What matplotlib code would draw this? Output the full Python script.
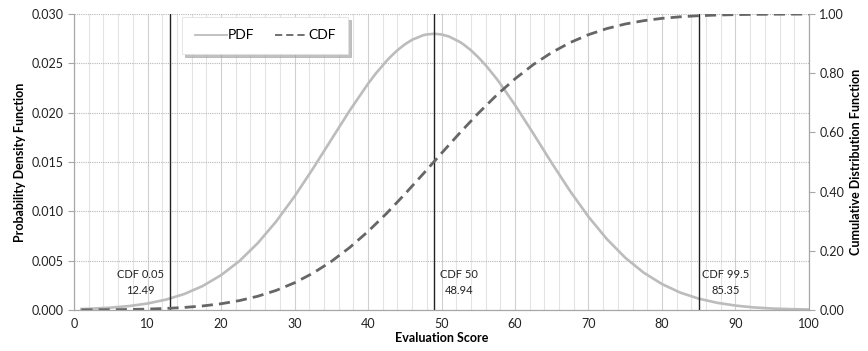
import matplotlib.pyplot as plt
from matplotlib.ticker import MultipleLocator, FormatStrFormatter

plt.rcParams['font.family'] = ['Lato', 'DejaVu Sans']

# evaluation score for the density curve
pdf_score = [1, 2.5, 5, 7.5, 10, 12.5, 15, 17.5, 20, 22.5, 25, 27.5, 30, 32.5,
             35, 37.5, 40, 41, 42.5, 43, 44, 45, 46, 47.5, 48, 49, 50, 51,
             52.5, 53, 54, 55, 56, 57.5, 58, 60, 62.5, 65, 67.5, 70, 72.5, 75,
             77.5, 80, 82.5, 85, 87.5, 90, 92.5, 95, 97.5, 100]

# probability density (left axis)
pdf = [0.00010, 0.00014, 0.00024, 0.00040, 0.00066, 0.00105, 0.00162, 0.00243,
       0.00353, 0.00496, 0.00678, 0.00897, 0.01151, 0.01432, 0.01727, 0.02021,
       0.02293, 0.02392, 0.02523, 0.02562, 0.02633, 0.02692, 0.02739, 0.02785,
       0.02793, 0.02800, 0.02793, 0.02773, 0.02717, 0.02692, 0.02633, 0.02562,
       0.02482, 0.02344, 0.02293, 0.02078, 0.01788, 0.01490, 0.01205, 0.00945,
       0.00719, 0.00530, 0.00379, 0.00263, 0.00176, 0.00115, 0.00073, 0.00045,
       0.00026, 0.00015, 0.00009, 0.00005]

# evaluation score for the cumulative curve
cdf_score = [1, 2.5, 5, 7.5, 10, 12.5, 15, 17.5, 20, 22.5, 25, 27.5, 30, 32.5,
             35, 37.5, 40, 42.5, 45, 47.5, 50, 52.5, 55, 57.5, 60, 62.5, 65,
             67.5, 70, 72.5, 75, 77.5, 80, 82.5, 85, 87.5, 90, 92.5, 95, 97.5,
             100]

# cumulative distribution (right axis)
cdf = [0.0004, 0.0006, 0.0010, 0.0018, 0.0031, 0.0053, 0.0086, 0.0137, 0.0211,
       0.0318, 0.0465, 0.0662, 0.0919, 0.1243, 0.1640, 0.2110, 0.2653, 0.3257,
       0.3912, 0.4598, 0.5296, 0.5986, 0.6646, 0.7260, 0.7811, 0.8294, 0.8701,
       0.9036, 0.9303, 0.9509, 0.9663, 0.9775, 0.9854, 0.9907, 0.9943, 0.9966,
       0.9980, 0.9989, 0.9994, 0.9997, 0.9998]

# marker lines and their labels
marker_x = [13.1, 48.95, 85.1]
marker_labels = ['CDF 0.05\n12.49', 'CDF 50\n48.94', 'CDF 99.5\n85.35']
label_x = [9.0, 52.4, 88.7]

fig = plt.figure(figsize=(8.68, 3.51), dpi=100)
ax = fig.add_axes([0.0853, 0.1168, 0.8467, 0.8432])
ax2 = ax.twinx()

ax.set_xlim(0, 100)
ax.set_ylim(0, 0.030)
ax2.set_ylim(0, 1.0)

ax.xaxis.set_major_locator(MultipleLocator(10))
ax.xaxis.set_minor_locator(MultipleLocator(2))
ax.yaxis.set_major_locator(MultipleLocator(0.005))
ax.yaxis.set_major_formatter(FormatStrFormatter('%.3f'))
ax2.yaxis.set_major_locator(MultipleLocator(0.2))
ax2.yaxis.set_major_formatter(FormatStrFormatter('%.2f'))

ax.grid(which='major', axis='x', color='#d0d0d0', linewidth=0.8)
ax.grid(which='minor', axis='x', color='#e4e4e4', linewidth=0.8)
ax.grid(which='major', axis='y', color='#b8b8b8', linewidth=0.8,
        linestyle=(0, (1, 1)))
ax.set_axisbelow(True)

for a in (ax, ax2):
    for s in a.spines.values():
        s.set_color('#a6a6a6')
        s.set_linewidth(0.8)
    a.spines['top'].set_visible(False)
    a.tick_params(labelsize=9, colors='#222222', length=4, color='#a6a6a6')
ax.tick_params(which='minor', length=0)
ax.tick_params(axis='x', length=0, pad=6)

l1, = ax.plot(pdf_score, pdf, color='#bcbcbc', linewidth=1.9, label='PDF')
l2, = ax2.plot(cdf_score, cdf, color='#666666', linewidth=2.0,
               dashes=(4, 2.2), label='CDF')

for mx, lx, lab in zip(marker_x, label_x, marker_labels):
    ax.axvline(mx, color='#222222', linewidth=1.0)
    ax.text(lx, 0.0028, lab, ha='center', va='center', fontsize=8,
            color='#222222', linespacing=1.5)

ax.set_xlabel('Evaluation Score', fontsize=9, fontweight='bold', labelpad=1)
ax.set_ylabel('Probability Density Function', fontsize=9, fontweight='bold')
ax2.set_ylabel('Cumulative Distribution Function', fontsize=9, fontweight='bold')

leg = ax2.legend([l1, l2], ['PDF', 'CDF'], loc='upper center', ncol=2,
                 bbox_to_anchor=(0.26, 0.99), borderaxespad=0, fontsize=10,
                 frameon=True, fancybox=False,
                 shadow={'color': '#999999', 'alpha': 0.6},
                 handlelength=2.3, handletextpad=0.1, columnspacing=1.45,
                 borderpad=0.9)
leg.get_frame().set_edgecolor('#e0e0e0')
leg.get_frame().set_linewidth(0.6)
for ln in leg.get_lines():
    ln.set_linewidth(1.3)

fig.savefig('out.png', dpi=100)
